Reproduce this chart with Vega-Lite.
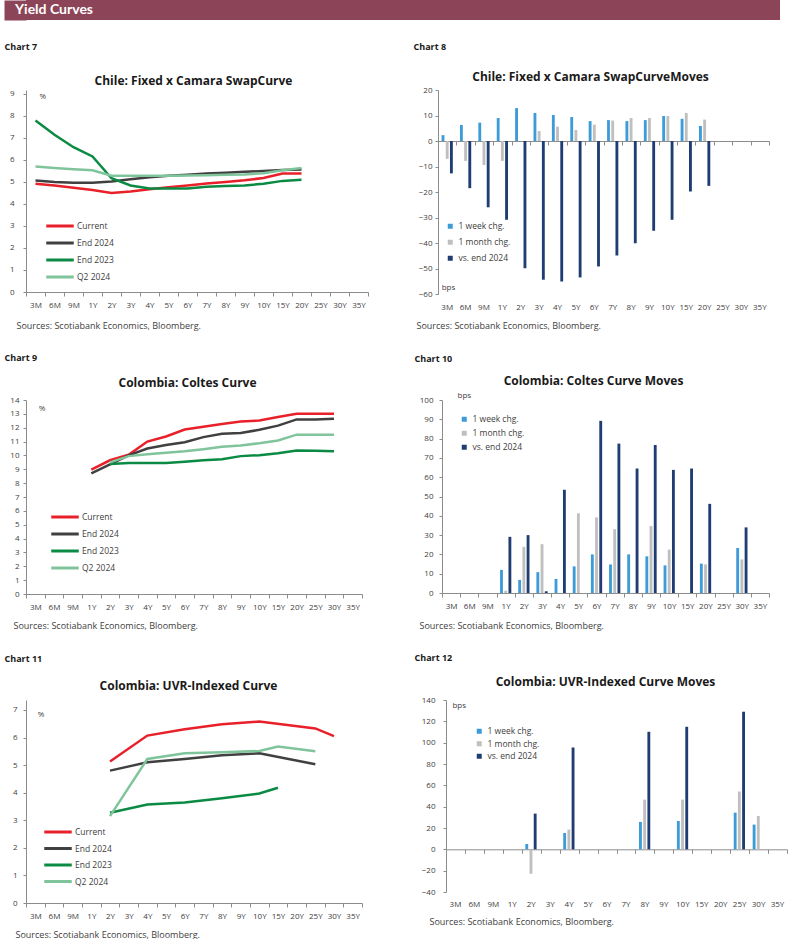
{
  "$schema": "https://vega.github.io/schema/vega-lite/v6.json",
  "padding": {"left": 4, "top": 0, "right": 0, "bottom": 0},
  "autosize": {"type": "pad"},
  "background": "white",
  "config": {
    "font": "Open Sans",
    "view": {"stroke": null},
    "axis": {"grid": false, "labelFont": "Open Sans", "labelFontSize": 8, "labelColor": "#404040", "domainColor": "#8c8c8c", "tickColor": "#8c8c8c", "titleFont": "Open Sans", "titleColor": "#1a1a1a", "labelAngle": 0},
    "legend": {"labelFont": "Open Sans", "labelFontSize": 8.5, "labelColor": "#404040"}
  },
  "datasets": {
    "curves": [
      {"c": 7, "s": "Current", "t": "3M", "v": 4.92}, {"c": 7, "s": "Current", "t": "6M", "v": 4.84}, {"c": 7, "s": "Current", "t": "9M", "v": 4.74}, {"c": 7, "s": "Current", "t": "1Y", "v": 4.64}, {"c": 7, "s": "Current", "t": "2Y", "v": 4.5}, {"c": 7, "s": "Current", "t": "3Y", "v": 4.57}, {"c": 7, "s": "Current", "t": "4Y", "v": 4.67}, {"c": 7, "s": "Current", "t": "5Y", "v": 4.76}, {"c": 7, "s": "Current", "t": "6Y", "v": 4.84}, {"c": 7, "s": "Current", "t": "7Y", "v": 4.93}, {"c": 7, "s": "Current", "t": "8Y", "v": 5.0}, {"c": 7, "s": "Current", "t": "9Y", "v": 5.08}, {"c": 7, "s": "Current", "t": "10Y", "v": 5.18}, {"c": 7, "s": "Current", "t": "15Y", "v": 5.38}, {"c": 7, "s": "Current", "t": "20Y", "v": 5.38},
      {"c": 7, "s": "End 2024", "t": "3M", "v": 5.07}, {"c": 7, "s": "End 2024", "t": "6M", "v": 5.0}, {"c": 7, "s": "End 2024", "t": "9M", "v": 4.96}, {"c": 7, "s": "End 2024", "t": "1Y", "v": 4.96}, {"c": 7, "s": "End 2024", "t": "2Y", "v": 5.02}, {"c": 7, "s": "End 2024", "t": "3Y", "v": 5.12}, {"c": 7, "s": "End 2024", "t": "4Y", "v": 5.22}, {"c": 7, "s": "End 2024", "t": "5Y", "v": 5.28}, {"c": 7, "s": "End 2024", "t": "6Y", "v": 5.33}, {"c": 7, "s": "End 2024", "t": "7Y", "v": 5.38}, {"c": 7, "s": "End 2024", "t": "8Y", "v": 5.42}, {"c": 7, "s": "End 2024", "t": "9Y", "v": 5.46}, {"c": 7, "s": "End 2024", "t": "10Y", "v": 5.5}, {"c": 7, "s": "End 2024", "t": "15Y", "v": 5.55}, {"c": 7, "s": "End 2024", "t": "20Y", "v": 5.57},
      {"c": 7, "s": "End 2023", "t": "3M", "v": 7.79}, {"c": 7, "s": "End 2023", "t": "6M", "v": 7.15}, {"c": 7, "s": "End 2023", "t": "9M", "v": 6.58}, {"c": 7, "s": "End 2023", "t": "1Y", "v": 6.16}, {"c": 7, "s": "End 2023", "t": "2Y", "v": 5.17}, {"c": 7, "s": "End 2023", "t": "3Y", "v": 4.84}, {"c": 7, "s": "End 2023", "t": "4Y", "v": 4.7}, {"c": 7, "s": "End 2023", "t": "5Y", "v": 4.7}, {"c": 7, "s": "End 2023", "t": "6Y", "v": 4.7}, {"c": 7, "s": "End 2023", "t": "7Y", "v": 4.78}, {"c": 7, "s": "End 2023", "t": "8Y", "v": 4.82}, {"c": 7, "s": "End 2023", "t": "9Y", "v": 4.84}, {"c": 7, "s": "End 2023", "t": "10Y", "v": 4.92}, {"c": 7, "s": "End 2023", "t": "15Y", "v": 5.05}, {"c": 7, "s": "End 2023", "t": "20Y", "v": 5.1},
      {"c": 7, "s": "Q2 2024", "t": "3M", "v": 5.7}, {"c": 7, "s": "Q2 2024", "t": "6M", "v": 5.64}, {"c": 7, "s": "Q2 2024", "t": "9M", "v": 5.58}, {"c": 7, "s": "Q2 2024", "t": "1Y", "v": 5.53}, {"c": 7, "s": "Q2 2024", "t": "2Y", "v": 5.28}, {"c": 7, "s": "Q2 2024", "t": "3Y", "v": 5.28}, {"c": 7, "s": "Q2 2024", "t": "4Y", "v": 5.28}, {"c": 7, "s": "Q2 2024", "t": "5Y", "v": 5.28}, {"c": 7, "s": "Q2 2024", "t": "6Y", "v": 5.3}, {"c": 7, "s": "Q2 2024", "t": "7Y", "v": 5.31}, {"c": 7, "s": "Q2 2024", "t": "8Y", "v": 5.33}, {"c": 7, "s": "Q2 2024", "t": "9Y", "v": 5.34}, {"c": 7, "s": "Q2 2024", "t": "10Y", "v": 5.4}, {"c": 7, "s": "Q2 2024", "t": "15Y", "v": 5.53}, {"c": 7, "s": "Q2 2024", "t": "20Y", "v": 5.64},
      {"c": 9, "s": "Current", "t": "1Y", "v": 8.97}, {"c": 9, "s": "Current", "t": "2Y", "v": 9.65}, {"c": 9, "s": "Current", "t": "3Y", "v": 10.05}, {"c": 9, "s": "Current", "t": "4Y", "v": 11.0}, {"c": 9, "s": "Current", "t": "5Y", "v": 11.37}, {"c": 9, "s": "Current", "t": "6Y", "v": 11.87}, {"c": 9, "s": "Current", "t": "7Y", "v": 12.07}, {"c": 9, "s": "Current", "t": "8Y", "v": 12.27}, {"c": 9, "s": "Current", "t": "9Y", "v": 12.45}, {"c": 9, "s": "Current", "t": "10Y", "v": 12.52}, {"c": 9, "s": "Current", "t": "15Y", "v": 12.78}, {"c": 9, "s": "Current", "t": "20Y", "v": 13.0}, {"c": 9, "s": "Current", "t": "25Y", "v": 13.0}, {"c": 9, "s": "Current", "t": "30Y", "v": 13.0},
      {"c": 9, "s": "End 2024", "t": "1Y", "v": 8.7}, {"c": 9, "s": "End 2024", "t": "2Y", "v": 9.35}, {"c": 9, "s": "End 2024", "t": "3Y", "v": 10.0}, {"c": 9, "s": "End 2024", "t": "4Y", "v": 10.5}, {"c": 9, "s": "End 2024", "t": "5Y", "v": 10.75}, {"c": 9, "s": "End 2024", "t": "6Y", "v": 10.95}, {"c": 9, "s": "End 2024", "t": "7Y", "v": 11.32}, {"c": 9, "s": "End 2024", "t": "8Y", "v": 11.57}, {"c": 9, "s": "End 2024", "t": "9Y", "v": 11.62}, {"c": 9, "s": "End 2024", "t": "10Y", "v": 11.85}, {"c": 9, "s": "End 2024", "t": "15Y", "v": 12.15}, {"c": 9, "s": "End 2024", "t": "20Y", "v": 12.6}, {"c": 9, "s": "End 2024", "t": "25Y", "v": 12.6}, {"c": 9, "s": "End 2024", "t": "30Y", "v": 12.65},
      {"c": 9, "s": "End 2023", "t": "2Y", "v": 9.38}, {"c": 9, "s": "End 2023", "t": "3Y", "v": 9.45}, {"c": 9, "s": "End 2023", "t": "4Y", "v": 9.45}, {"c": 9, "s": "End 2023", "t": "5Y", "v": 9.45}, {"c": 9, "s": "End 2023", "t": "6Y", "v": 9.55}, {"c": 9, "s": "End 2023", "t": "7Y", "v": 9.65}, {"c": 9, "s": "End 2023", "t": "8Y", "v": 9.72}, {"c": 9, "s": "End 2023", "t": "9Y", "v": 9.95}, {"c": 9, "s": "End 2023", "t": "10Y", "v": 10.02}, {"c": 9, "s": "End 2023", "t": "15Y", "v": 10.15}, {"c": 9, "s": "End 2023", "t": "20Y", "v": 10.36}, {"c": 9, "s": "End 2023", "t": "25Y", "v": 10.33}, {"c": 9, "s": "End 2023", "t": "30Y", "v": 10.3},
      {"c": 9, "s": "Q2 2024", "t": "2Y", "v": 9.5}, {"c": 9, "s": "Q2 2024", "t": "3Y", "v": 9.95}, {"c": 9, "s": "Q2 2024", "t": "4Y", "v": 10.08}, {"c": 9, "s": "Q2 2024", "t": "5Y", "v": 10.2}, {"c": 9, "s": "Q2 2024", "t": "6Y", "v": 10.3}, {"c": 9, "s": "Q2 2024", "t": "7Y", "v": 10.45}, {"c": 9, "s": "Q2 2024", "t": "8Y", "v": 10.63}, {"c": 9, "s": "Q2 2024", "t": "9Y", "v": 10.72}, {"c": 9, "s": "Q2 2024", "t": "10Y", "v": 10.88}, {"c": 9, "s": "Q2 2024", "t": "15Y", "v": 11.08}, {"c": 9, "s": "Q2 2024", "t": "20Y", "v": 11.5}, {"c": 9, "s": "Q2 2024", "t": "25Y", "v": 11.5}, {"c": 9, "s": "Q2 2024", "t": "30Y", "v": 11.5},
      {"c": 11, "s": "Current", "t": "2Y", "v": 5.13}, {"c": 11, "s": "Current", "t": "4Y", "v": 6.07}, {"c": 11, "s": "Current", "t": "6Y", "v": 6.3}, {"c": 11, "s": "Current", "t": "8Y", "v": 6.48}, {"c": 11, "s": "Current", "t": "10Y", "v": 6.58}, {"c": 11, "s": "Current", "t": "25Y", "v": 6.33}, {"c": 11, "s": "Current", "t": "30Y", "v": 6.05},
      {"c": 11, "s": "End 2024", "t": "2Y", "v": 4.8}, {"c": 11, "s": "End 2024", "t": "4Y", "v": 5.1}, {"c": 11, "s": "End 2024", "t": "6Y", "v": 5.22}, {"c": 11, "s": "End 2024", "t": "8Y", "v": 5.36}, {"c": 11, "s": "End 2024", "t": "10Y", "v": 5.43}, {"c": 11, "s": "End 2024", "t": "25Y", "v": 5.03},
      {"c": 11, "s": "End 2023", "t": "2Y", "v": 3.27}, {"c": 11, "s": "End 2023", "t": "4Y", "v": 3.57}, {"c": 11, "s": "End 2023", "t": "6Y", "v": 3.64}, {"c": 11, "s": "End 2023", "t": "8Y", "v": 3.8}, {"c": 11, "s": "End 2023", "t": "10Y", "v": 3.97}, {"c": 11, "s": "End 2023", "t": "15Y", "v": 4.18},
      {"c": 11, "s": "Q2 2024", "t": "2Y", "v": 3.15}, {"c": 11, "s": "Q2 2024", "t": "4Y", "v": 5.22}, {"c": 11, "s": "Q2 2024", "t": "6Y", "v": 5.43}, {"c": 11, "s": "Q2 2024", "t": "8Y", "v": 5.47}, {"c": 11, "s": "Q2 2024", "t": "10Y", "v": 5.51}, {"c": 11, "s": "Q2 2024", "t": "15Y", "v": 5.67}, {"c": 11, "s": "Q2 2024", "t": "25Y", "v": 5.5}
    ],
    "moves": [
      {"c": 8, "s": "1 week chg.", "t": "3M", "v": 2.3}, {"c": 8, "s": "1 week chg.", "t": "6M", "v": 6.3}, {"c": 8, "s": "1 week chg.", "t": "9M", "v": 7.2}, {"c": 8, "s": "1 week chg.", "t": "1Y", "v": 9.0}, {"c": 8, "s": "1 week chg.", "t": "2Y", "v": 12.9}, {"c": 8, "s": "1 week chg.", "t": "3Y", "v": 11.0}, {"c": 8, "s": "1 week chg.", "t": "4Y", "v": 10.2}, {"c": 8, "s": "1 week chg.", "t": "5Y", "v": 9.4}, {"c": 8, "s": "1 week chg.", "t": "6Y", "v": 7.8}, {"c": 8, "s": "1 week chg.", "t": "7Y", "v": 8.2}, {"c": 8, "s": "1 week chg.", "t": "8Y", "v": 7.8}, {"c": 8, "s": "1 week chg.", "t": "9Y", "v": 8.2}, {"c": 8, "s": "1 week chg.", "t": "10Y", "v": 9.8}, {"c": 8, "s": "1 week chg.", "t": "15Y", "v": 8.7}, {"c": 8, "s": "1 week chg.", "t": "20Y", "v": 5.9},
      {"c": 8, "s": "1 month chg.", "t": "3M", "v": -7.0}, {"c": 8, "s": "1 month chg.", "t": "6M", "v": -7.8}, {"c": 8, "s": "1 month chg.", "t": "9M", "v": -9.4}, {"c": 8, "s": "1 month chg.", "t": "1Y", "v": -7.8}, {"c": 8, "s": "1 month chg.", "t": "3Y", "v": 3.9}, {"c": 8, "s": "1 month chg.", "t": "4Y", "v": 5.6}, {"c": 8, "s": "1 month chg.", "t": "5Y", "v": 4.3}, {"c": 8, "s": "1 month chg.", "t": "6Y", "v": 6.4}, {"c": 8, "s": "1 month chg.", "t": "7Y", "v": 8.0}, {"c": 8, "s": "1 month chg.", "t": "8Y", "v": 9.0}, {"c": 8, "s": "1 month chg.", "t": "9Y", "v": 9.0}, {"c": 8, "s": "1 month chg.", "t": "10Y", "v": 9.8}, {"c": 8, "s": "1 month chg.", "t": "15Y", "v": 11.0}, {"c": 8, "s": "1 month chg.", "t": "20Y", "v": 8.4},
      {"c": 8, "s": "vs. end 2024", "t": "3M", "v": -12.7}, {"c": 8, "s": "vs. end 2024", "t": "6M", "v": -18.5}, {"c": 8, "s": "vs. end 2024", "t": "9M", "v": -26.0}, {"c": 8, "s": "vs. end 2024", "t": "1Y", "v": -30.9}, {"c": 8, "s": "vs. end 2024", "t": "2Y", "v": -49.9}, {"c": 8, "s": "vs. end 2024", "t": "3Y", "v": -54.4}, {"c": 8, "s": "vs. end 2024", "t": "4Y", "v": -55.1}, {"c": 8, "s": "vs. end 2024", "t": "5Y", "v": -53.5}, {"c": 8, "s": "vs. end 2024", "t": "6Y", "v": -49.2}, {"c": 8, "s": "vs. end 2024", "t": "7Y", "v": -44.9}, {"c": 8, "s": "vs. end 2024", "t": "8Y", "v": -40.1}, {"c": 8, "s": "vs. end 2024", "t": "9Y", "v": -35.2}, {"c": 8, "s": "vs. end 2024", "t": "10Y", "v": -30.9}, {"c": 8, "s": "vs. end 2024", "t": "15Y", "v": -19.8}, {"c": 8, "s": "vs. end 2024", "t": "20Y", "v": -17.6},
      {"c": 10, "s": "1 week chg.", "t": "1Y", "v": 12.0}, {"c": 10, "s": "1 week chg.", "t": "2Y", "v": 6.8}, {"c": 10, "s": "1 week chg.", "t": "3Y", "v": 10.8}, {"c": 10, "s": "1 week chg.", "t": "4Y", "v": 7.3}, {"c": 10, "s": "1 week chg.", "t": "5Y", "v": 13.8}, {"c": 10, "s": "1 week chg.", "t": "6Y", "v": 20.0}, {"c": 10, "s": "1 week chg.", "t": "7Y", "v": 14.8}, {"c": 10, "s": "1 week chg.", "t": "8Y", "v": 20.0}, {"c": 10, "s": "1 week chg.", "t": "9Y", "v": 19.0}, {"c": 10, "s": "1 week chg.", "t": "10Y", "v": 14.3}, {"c": 10, "s": "1 week chg.", "t": "20Y", "v": 15.2}, {"c": 10, "s": "1 week chg.", "t": "30Y", "v": 23.3},
      {"c": 10, "s": "1 month chg.", "t": "1Y", "v": 1.2}, {"c": 10, "s": "1 month chg.", "t": "2Y", "v": 23.9}, {"c": 10, "s": "1 month chg.", "t": "3Y", "v": 25.3}, {"c": 10, "s": "1 month chg.", "t": "5Y", "v": 41.3}, {"c": 10, "s": "1 month chg.", "t": "6Y", "v": 39.2}, {"c": 10, "s": "1 month chg.", "t": "7Y", "v": 33.1}, {"c": 10, "s": "1 month chg.", "t": "9Y", "v": 34.7}, {"c": 10, "s": "1 month chg.", "t": "10Y", "v": 22.5}, {"c": 10, "s": "1 month chg.", "t": "20Y", "v": 14.8}, {"c": 10, "s": "1 month chg.", "t": "30Y", "v": 17.4},
      {"c": 10, "s": "vs. end 2024", "t": "1Y", "v": 29.1}, {"c": 10, "s": "vs. end 2024", "t": "2Y", "v": 30.0}, {"c": 10, "s": "vs. end 2024", "t": "3Y", "v": 0.9}, {"c": 10, "s": "vs. end 2024", "t": "4Y", "v": 53.5}, {"c": 10, "s": "vs. end 2024", "t": "6Y", "v": 89.2}, {"c": 10, "s": "vs. end 2024", "t": "7Y", "v": 77.4}, {"c": 10, "s": "vs. end 2024", "t": "8Y", "v": 64.5}, {"c": 10, "s": "vs. end 2024", "t": "9Y", "v": 76.7}, {"c": 10, "s": "vs. end 2024", "t": "10Y", "v": 63.8}, {"c": 10, "s": "vs. end 2024", "t": "15Y", "v": 64.5}, {"c": 10, "s": "vs. end 2024", "t": "20Y", "v": 46.2}, {"c": 10, "s": "vs. end 2024", "t": "30Y", "v": 34.0},
      {"c": 12, "s": "1 week chg.", "t": "2Y", "v": 5.0}, {"c": 12, "s": "1 week chg.", "t": "4Y", "v": 15.3}, {"c": 12, "s": "1 week chg.", "t": "8Y", "v": 25.7}, {"c": 12, "s": "1 week chg.", "t": "10Y", "v": 26.6}, {"c": 12, "s": "1 week chg.", "t": "25Y", "v": 34.4}, {"c": 12, "s": "1 week chg.", "t": "30Y", "v": 23.2},
      {"c": 12, "s": "1 month chg.", "t": "2Y", "v": -22.9}, {"c": 12, "s": "1 month chg.", "t": "4Y", "v": 18.5}, {"c": 12, "s": "1 month chg.", "t": "8Y", "v": 46.6}, {"c": 12, "s": "1 month chg.", "t": "10Y", "v": 46.6}, {"c": 12, "s": "1 month chg.", "t": "25Y", "v": 54.2}, {"c": 12, "s": "1 month chg.", "t": "30Y", "v": 31.3},
      {"c": 12, "s": "vs. end 2024", "t": "2Y", "v": 33.5}, {"c": 12, "s": "vs. end 2024", "t": "4Y", "v": 95.5}, {"c": 12, "s": "vs. end 2024", "t": "8Y", "v": 110.2}, {"c": 12, "s": "vs. end 2024", "t": "10Y", "v": 114.9}, {"c": 12, "s": "vs. end 2024", "t": "25Y", "v": 129.0}
    ]
  },
  "spacing": 22,
  "resolve": {"scale": {"color": "independent"}, "legend": {"color": "independent"}},
  "vconcat": [
    {
      "width": 754,
      "height": 20,
      "view": {"fill": "#8c4558", "stroke": null},
      "data": {"values": [{"h": "Yield Curves"}]},
      "mark": {"type": "text", "color": "white", "font": "Lato", "fontWeight": "bold", "fontSize": 14, "align": "left", "baseline": "middle", "dx": -11},
      "encoding": {
        "text": {"field": "h"},
        "x": {"datum": 0, "type": "quantitative", "scale": {"domain": [0, 1]}, "axis": null},
        "y": {"datum": 0.5, "type": "quantitative", "scale": {"domain": [0, 1]}, "axis": {"orient": "left", "domain": true, "domainColor": "#8c4558", "domainWidth": 22, "domainCap": "butt", "offset": 11, "ticks": false, "labels": false, "title": null, "zindex": 0}}
      }
    },
    {
      "spacing": 44,
      "resolve": {"scale": {"color": "independent"}, "legend": {"color": "independent"}},
      "hconcat": [
        {
          "width": 342,
          "height": 202,
          "layer": [
            {
              "data": {"name": "curves"},
              "transform": [{"filter": "datum.c == 7"}],
              "mark": {"type": "line", "strokeWidth": 2.5},
              "encoding": {
                "x": {"field": "t", "type": "nominal", "scale": {"type": "band", "domain": ["3M","6M","9M","1Y","2Y","3Y","4Y","5Y","6Y","7Y","8Y","9Y","10Y","15Y","20Y","25Y","30Y","35Y"], "paddingInner": 0, "paddingOuter": 0},
                  "axis": {"orient": "bottom", "tickBand": "extent", "tickSize": 4, "labelPadding": 5, "title": "Sources:  Scotiabank  Economics,  Bloomberg.", "titleX": -10, "titleY": 33.5, "titleAlign": "left", "titleBaseline": "middle", "titleFontSize": 9, "titleFontWeight": "normal", "titleColor": "#404040"}},
                "y": {"field": "v", "type": "quantitative", "scale": {"domain": [0, 9.18], "nice": false, "zero": false},
                  "axis": {"values": [0, 1, 2, 3, 4, 5, 6, 7, 8, 9], "tickSize": 3, "labelPadding": 9, "title": "Chart 7", "titleX": -22, "titleY": -44, "titleAngle": 0, "titleAlign": "left", "titleBaseline": "middle", "titleFontSize": 9, "titleFontWeight": "bold"}},
                "color": {"field": "s", "type": "nominal", "scale": {"domain": ["Current", "End 2024", "End 2023", "Q2 2024"], "range": ["#e8202a", "#404040", "#0a8a43", "#80c49b"]},
                  "legend": {"orient": "none", "legendX": 27, "legendY": 129, "title": null, "symbolType": "M-2.5,0H2.5", "symbolSize": 121, "symbolStrokeWidth": 3, "labelOffset": 10, "rowPadding": 4}},
                "order": {"value": null}
              }
            },
            {
              "data": {"values": [{"u": "%"}]},
              "mark": {"type": "text", "align": "left", "baseline": "middle", "dx": 4, "dy": 3, "fontSize": 8, "color": "#404040"},
              "encoding": {
                "x": {"datum": "3M", "axis": {"orient": "top", "labels": false, "ticks": false, "domain": false, "title": "Chile: Fixed x Camara SwapCurve", "titleX": 167, "titleY": -10, "titleAlign": "center", "titleBaseline": "middle", "titleFontSize": 12, "titleFontWeight": "bold", "titleAngle": 0}},
                "y": {"datum": 9, "axis": null},
                "text": {"field": "u"}
              }
            }
          ],
          "resolve": {"axis": {"x": "independent", "y": "independent"}}
        },
        {
          "width": 331,
          "height": 204,
          "layer": [
            {
              "data": {"name": "moves"},
              "transform": [{"filter": "datum.c == 8"}],
              "mark": {"type": "bar"},
              "encoding": {
                "x": {"field": "t", "type": "nominal", "scale": {"type": "band", "domain": ["3M","6M","9M","1Y","2Y","3Y","4Y","5Y","6Y","7Y","8Y","9Y","10Y","15Y","20Y","25Y","30Y","35Y"], "paddingInner": 0, "paddingOuter": 0},
                  "axis": {"orient": "bottom", "domain": false, "ticks": false, "labelPadding": 9, "title": "Sources:  Scotiabank  Economics,  Bloomberg.", "titleX": -22, "titleY": 31, "titleAlign": "left", "titleBaseline": "middle", "titleFontSize": 9, "titleFontWeight": "normal", "titleColor": "#404040"}},
                "xOffset": {"field": "s", "type": "nominal", "scale": {"domain": ["1 week chg.", "1 month chg.", "vs. end 2024"], "paddingInner": 0.32, "paddingOuter": 0.85}},
                "y": {"field": "v", "type": "quantitative", "scale": {"domain": [-60, 20], "nice": false},
                  "axis": {"values": [-60, -50, -40, -30, -20, -10, 0, 10, 20], "tickSize": 3, "labelPadding": 3, "title": "Chart 8", "titleX": -25, "titleY": -44, "titleAngle": 0, "titleAlign": "left", "titleBaseline": "middle", "titleFontSize": 9, "titleFontWeight": "bold"}},
                "color": {"field": "s", "type": "nominal", "scale": {"domain": ["1 week chg.", "1 month chg.", "vs. end 2024"], "range": ["#3d9bd8", "#bfbfbf", "#1f3d72"]},
                  "legend": {"orient": "none", "legendX": 8, "legendY": 132, "title": null, "symbolType": "square", "symbolSize": 25, "symbolStrokeWidth": 0, "labelOffset": 4, "rowPadding": 7}}
              }
            },
            {
              "data": {"values": [{"u": "bps"}]},
              "mark": {"type": "text", "align": "left", "baseline": "middle", "dx": -5.5, "dy": -6, "fontSize": 8, "color": "#404040"},
              "encoding": {
                "x": {"datum": "3M", "axis": {"orient": "bottom", "offset": -153, "labels": false, "ticks": true, "tickBand": "extent", "tickSize": 4, "domain": true, "title": "Chile: Fixed x Camara SwapCurveMoves", "titleX": 152, "titleY": -65, "titleAlign": "center", "titleBaseline": "middle", "titleFontSize": 12, "titleFontWeight": "bold", "titleAngle": 0}},
                "y": {"datum": -60, "axis": null},
                "text": {"field": "u"}
              }
            }
          ],
          "resolve": {"axis": {"x": "independent", "y": "independent"}}
        }
      ]
    },
    {
      "spacing": 51,
      "resolve": {"scale": {"color": "independent"}, "legend": {"color": "independent"}},
      "hconcat": [
        {
          "width": 336,
          "height": 194,
          "layer": [
            {
              "data": {"name": "curves"},
              "transform": [{"filter": "datum.c == 9"}],
              "mark": {"type": "line", "strokeWidth": 2.5},
              "encoding": {
                "x": {"field": "t", "type": "nominal", "scale": {"type": "band", "domain": ["3M","6M","9M","1Y","2Y","3Y","4Y","5Y","6Y","7Y","8Y","9Y","10Y","15Y","20Y","25Y","30Y","35Y"], "paddingInner": 0, "paddingOuter": 0},
                  "axis": {"orient": "bottom", "tickBand": "extent", "tickSize": 4, "labelPadding": 5, "title": "Sources:  Scotiabank  Economics,  Bloomberg.", "titleX": -13, "titleY": 31, "titleAlign": "left", "titleBaseline": "middle", "titleFontSize": 9, "titleFontWeight": "normal", "titleColor": "#404040"}},
                "y": {"field": "v", "type": "quantitative", "scale": {"domain": [0, 14], "nice": false, "zero": false},
                  "axis": {"values": [0, 1, 2, 3, 4, 5, 6, 7, 8, 9, 10, 11, 12, 13, 14], "tickSize": 3, "labelPadding": 4, "title": "Chart 9", "titleX": -22, "titleY": -43, "titleAngle": 0, "titleAlign": "left", "titleBaseline": "middle", "titleFontSize": 9, "titleFontWeight": "bold"}},
                "color": {"field": "s", "type": "nominal", "scale": {"domain": ["Current", "End 2024", "End 2023", "Q2 2024"], "range": ["#e8202a", "#404040", "#0a8a43", "#80c49b"]},
                  "legend": {"orient": "none", "legendX": 32, "legendY": 110, "title": null, "symbolType": "M-2.5,0H2.5", "symbolSize": 121, "symbolStrokeWidth": 3, "labelOffset": 10, "rowPadding": 4}},
                "order": {"value": null}
              }
            },
            {
              "data": {"values": [{"u": "%"}]},
              "mark": {"type": "text", "align": "left", "baseline": "middle", "dx": 3.5, "dy": 9, "fontSize": 8, "color": "#404040"},
              "encoding": {
                "x": {"datum": "3M", "axis": {"orient": "top", "labels": false, "ticks": false, "domain": false, "title": "Colombia: Coltes Curve", "titleX": 161, "titleY": -18, "titleAlign": "center", "titleBaseline": "middle", "titleFontSize": 12, "titleFontWeight": "bold", "titleAngle": 0}},
                "y": {"datum": 14, "axis": null},
                "text": {"field": "u"}
              }
            }
          ],
          "resolve": {"axis": {"x": "independent", "y": "independent"}}
        },
        {
          "width": 327,
          "height": 193,
          "layer": [
            {
              "data": {"name": "moves"},
              "transform": [{"filter": "datum.c == 10"}],
              "mark": {"type": "bar"},
              "encoding": {
                "x": {"field": "t", "type": "nominal", "scale": {"type": "band", "domain": ["3M","6M","9M","1Y","2Y","3Y","4Y","5Y","6Y","7Y","8Y","9Y","10Y","15Y","20Y","25Y","30Y","35Y"], "paddingInner": 0, "paddingOuter": 0},
                  "axis": {"orient": "bottom", "tickBand": "extent", "tickSize": 4, "labelPadding": 5, "title": "Sources:  Scotiabank  Economics,  Bloomberg.", "titleX": -23, "titleY": 32.5, "titleAlign": "left", "titleBaseline": "middle", "titleFontSize": 9, "titleFontWeight": "normal", "titleColor": "#404040"}},
                "xOffset": {"field": "s", "type": "nominal", "scale": {"domain": ["1 week chg.", "1 month chg.", "vs. end 2024"], "paddingInner": 0.32, "paddingOuter": 0.85}},
                "y": {"field": "v", "type": "quantitative", "scale": {"domain": [0, 100], "nice": false},
                  "axis": {"values": [0, 10, 20, 30, 40, 50, 60, 70, 80, 90, 100], "tickSize": 3, "labelPadding": 6, "title": "Chart 10", "titleX": -28, "titleY": -42, "titleAngle": 0, "titleAlign": "left", "titleBaseline": "middle", "titleFontSize": 9, "titleFontWeight": "bold"}},
                "color": {"field": "s", "type": "nominal", "scale": {"domain": ["1 week chg.", "1 month chg.", "vs. end 2024"], "range": ["#3d9bd8", "#bfbfbf", "#1f3d72"]},
                  "legend": {"orient": "none", "legendX": 18, "legendY": 15, "title": null, "symbolType": "square", "symbolSize": 25, "symbolStrokeWidth": 0, "labelOffset": 4, "rowPadding": 5}}
              }
            },
            {
              "data": {"values": [{"u": "bps"}]},
              "mark": {"type": "text", "align": "left", "baseline": "middle", "dx": 6.5, "dy": -4, "fontSize": 8, "color": "#404040"},
              "encoding": {
                "x": {"datum": "3M", "axis": {"orient": "top", "labels": false, "ticks": false, "domain": false, "title": "Colombia: Coltes Curve Moves", "titleX": 151, "titleY": -20, "titleAlign": "center", "titleBaseline": "middle", "titleFontSize": 12, "titleFontWeight": "bold", "titleAngle": 0}},
                "y": {"datum": 100, "axis": null},
                "text": {"field": "u"}
              }
            }
          ],
          "resolve": {"axis": {"x": "independent", "y": "independent"}}
        }
      ]
    },
    {
      "spacing": 51,
      "resolve": {"scale": {"color": "independent"}, "legend": {"color": "independent"}},
      "hconcat": [
        {
          "width": 336,
          "height": 203,
          "layer": [
            {
              "data": {"name": "curves"},
              "transform": [{"filter": "datum.c == 11"}],
              "mark": {"type": "line", "strokeWidth": 2.5},
              "encoding": {
                "x": {"field": "t", "type": "nominal", "scale": {"type": "band", "domain": ["3M","6M","9M","1Y","2Y","3Y","4Y","5Y","6Y","7Y","8Y","9Y","10Y","15Y","20Y","25Y","30Y","35Y"], "paddingInner": 0, "paddingOuter": 0},
                  "axis": {"orient": "bottom", "tickBand": "extent", "tickSize": 4, "labelPadding": 5, "title": "Sources:  Scotiabank  Economics,  Bloomberg.", "titleX": -11, "titleY": 31, "titleAlign": "left", "titleBaseline": "middle", "titleFontSize": 9, "titleFontWeight": "normal", "titleColor": "#404040"}},
                "y": {"field": "v", "type": "quantitative", "scale": {"domain": [0, 7.36], "nice": false, "zero": false},
                  "axis": {"values": [0, 1, 2, 3, 4, 5, 6, 7], "tickSize": 3, "labelPadding": 6, "title": "Chart 11", "titleX": -22, "titleY": -42, "titleAngle": 0, "titleAlign": "left", "titleBaseline": "middle", "titleFontSize": 9, "titleFontWeight": "bold"}},
                "color": {"field": "s", "type": "nominal", "scale": {"domain": ["Current", "End 2024", "End 2023", "Q2 2024"], "range": ["#e8202a", "#404040", "#0a8a43", "#80c49b"]},
                  "legend": {"orient": "none", "legendX": 25, "legendY": 125, "title": null, "symbolType": "M-2.5,0H2.5", "symbolSize": 121, "symbolStrokeWidth": 3, "labelOffset": 10, "rowPadding": 3.5}},
                "order": {"value": null}
              }
            },
            {
              "data": {"values": [{"u": "%"}]},
              "mark": {"type": "text", "align": "left", "baseline": "middle", "dx": 2.5, "dy": 5, "fontSize": 8, "color": "#404040"},
              "encoding": {
                "x": {"datum": "3M", "axis": {"orient": "top", "labels": false, "ticks": false, "domain": false, "title": "Colombia: UVR-Indexed Curve", "titleX": 162, "titleY": -15, "titleAlign": "center", "titleBaseline": "middle", "titleFontSize": 12, "titleFontWeight": "bold", "titleAngle": 0}},
                "y": {"datum": 7, "axis": null},
                "text": {"field": "u"}
              }
            }
          ],
          "resolve": {"axis": {"x": "independent", "y": "independent"}}
        },
        {
          "width": 341,
          "height": 192,
          "layer": [
            {
              "data": {"name": "moves"},
              "transform": [{"filter": "datum.c == 12"}],
              "mark": {"type": "bar"},
              "encoding": {
                "x": {"field": "t", "type": "nominal", "scale": {"type": "band", "domain": ["3M","6M","9M","1Y","2Y","3Y","4Y","5Y","6Y","7Y","8Y","9Y","10Y","15Y","20Y","25Y","30Y","35Y"], "paddingInner": 0, "paddingOuter": 0},
                  "axis": {"orient": "bottom", "domain": false, "ticks": false, "labelPadding": 8, "title": "Sources:  Scotiabank  Economics,  Bloomberg.", "titleX": -17, "titleY": 29, "titleAlign": "left", "titleBaseline": "middle", "titleFontSize": 9, "titleFontWeight": "normal", "titleColor": "#404040"}},
                "xOffset": {"field": "s", "type": "nominal", "scale": {"domain": ["1 week chg.", "1 month chg.", "vs. end 2024"], "paddingInner": 0.32, "paddingOuter": 0.85}},
                "y": {"field": "v", "type": "quantitative", "scale": {"domain": [-40, 140], "nice": false},
                  "axis": {"values": [-40, -20, 0, 20, 40, 60, 80, 100, 120, 140], "tickSize": 3, "labelPadding": 8, "title": "Chart 12", "titleX": -32, "titleY": -43, "titleAngle": 0, "titleAlign": "left", "titleBaseline": "middle", "titleFontSize": 9, "titleFontWeight": "bold"}},
                "color": {"field": "s", "type": "nominal", "scale": {"domain": ["1 week chg.", "1 month chg.", "vs. end 2024"], "range": ["#3d9bd8", "#bfbfbf", "#1f3d72"]},
                  "legend": {"orient": "none", "legendX": 29, "legendY": 27, "title": null, "symbolType": "square", "symbolSize": 25, "symbolStrokeWidth": 0, "labelOffset": 4, "rowPadding": 3.5}}
              }
            },
            {
              "data": {"values": [{"u": "bps"}]},
              "mark": {"type": "text", "align": "left", "baseline": "middle", "dx": -3, "dy": 6, "fontSize": 8, "color": "#404040"},
              "encoding": {
                "x": {"datum": "3M", "axis": {"orient": "bottom", "offset": -42.7, "labels": false, "ticks": true, "tickBand": "extent", "tickSize": 4, "domain": true, "title": "Colombia: UVR-Indexed Curve Moves", "titleX": 159, "titleY": -168, "titleAlign": "center", "titleBaseline": "middle", "titleFontSize": 12, "titleFontWeight": "bold", "titleAngle": 0}},
                "y": {"datum": 140, "axis": null},
                "text": {"field": "u"}
              }
            }
          ],
          "resolve": {"axis": {"x": "independent", "y": "independent"}}
        }
      ]
    }
  ]
}
